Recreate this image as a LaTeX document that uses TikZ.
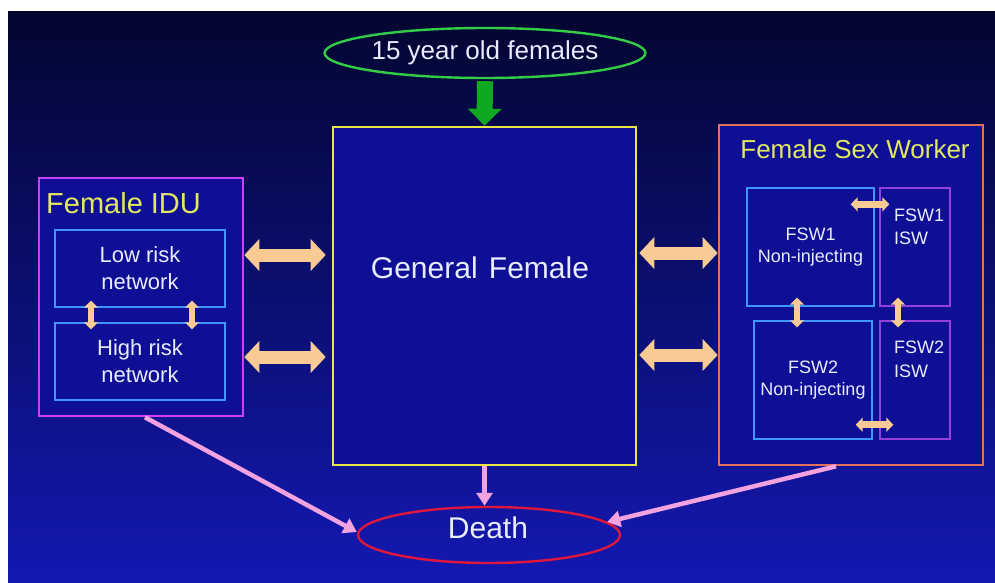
\documentclass[tikz,border=0pt]{standalone}
\usepackage{fontspec}
\setmainfont{Liberation Sans}
\usetikzlibrary{shapes.geometric,arrows.meta}

\definecolor{bgtop}{RGB}{3,6,48}
\definecolor{bgmid}{RGB}{10,12,120}
\definecolor{bgbot}{RGB}{20,24,178}
\definecolor{boxfill}{RGB}{14,15,148}
\definecolor{txt}{RGB}{232,236,255}
\definecolor{title}{RGB}{226,232,96}
\definecolor{genyellow}{RGB}{232,230,70}
\definecolor{idumag}{RGB}{204,64,250}
\definecolor{fswsalmon}{RGB}{228,112,92}
\definecolor{netblue}{RGB}{64,150,255}
\definecolor{iswpurple}{RGB}{150,64,220}
\definecolor{peach}{RGB}{250,202,148}
\definecolor{pinkarrow}{RGB}{242,162,222}
\definecolor{entrygreen}{RGB}{16,168,32}
\definecolor{ringgreen}{RGB}{50,205,70}
\definecolor{deathred}{RGB}{222,24,60}

\tikzset{
  x=1pt, y=-1pt,
  every node/.style={text=txt, inner sep=0pt, font=\fontsize{18}{22}\selectfont},
  bigbox/.style={draw, line width=2.6pt, fill=boxfill, rectangle},
  netbox/.style={draw=netblue, line width=1.4pt, fill=boxfill, rectangle, align=center},
  iswbox/.style={draw=iswpurple, line width=1.4pt, fill=boxfill, rectangle},
  oval/.style={ellipse, line width=2.4pt, inner sep=0pt},
  boxtitle/.style={text=title},
  twoway/.style={draw=peach, line width=13pt,
    {Triangle[width=31pt,length=15pt]}-{Triangle[width=31pt,length=15pt]}},
  smalltwoway/.style={draw=peach, line width=6.5pt,
    {Triangle[width=14pt,length=7pt]}-{Triangle[width=14pt,length=7pt]}},
  todeath/.style={draw=pinkarrow, line width=4.5pt,
    -{Triangle[width=16pt,length=13pt]}},
  entry/.style={draw=entrygreen, line width=16pt,
    -{Triangle[width=33pt,length=17pt]}},
}

\begin{document}
\begin{tikzpicture}
% page and slide background
\fill[white] (0,0) rectangle (995,583);
\useasboundingbox (0,0) rectangle (995,583);
\shade[top color=bgtop, middle color=bgmid, bottom color=bgbot] (8,12) rectangle (995,583);

% entry population
\node[oval, draw=ringgreen, minimum width=262pt, minimum height=50pt,
      font=\fontsize{26}{30}\selectfont] (entry) at (485,53) {15 year old females};

% general female population
\node[bigbox, draw=genyellow, minimum width=303pt, minimum height=338pt] (general) at (484.5,296) {};
\node[font=\fontsize{30}{34}\selectfont] (gentext) at (480,268) {General\hspace{3pt} Female};

% female injecting drug users
\node[bigbox, draw=idumag, minimum width=204pt, minimum height=238pt] (idu) at (141,297) {};
\node[boxtitle, anchor=west, font=\fontsize{29}{33}\selectfont] (idutitle) at (46,203) {Female IDU};
\node[netbox, minimum width=170pt, minimum height=77pt,
      font=\fontsize{22}{27}\selectfont] (low) at (140,268.5) {Low risk\\network};
\node[netbox, minimum width=170pt, minimum height=77pt,
      font=\fontsize{22}{27}\selectfont] (high) at (140,361.5) {High risk\\network};

% female sex workers
\node[bigbox, draw=fswsalmon, minimum width=264pt, minimum height=340pt] (fsw) at (851,295) {};
\node[boxtitle, font=\fontsize{26}{30}\selectfont] (fswtitle) at (855,149) {Female Sex Worker};
\node[netbox, minimum width=127pt, minimum height=118pt] (fswa) at (810.5,247) {FSW1\\Non-injecting};
\node[iswbox, minimum width=70pt, minimum height=118pt] (iswa) at (915,247) {};
\node[netbox, minimum width=118pt, minimum height=118pt] (fswb) at (813,380) {FSW2\\Non-injecting};
\node[iswbox, minimum width=70pt, minimum height=118pt] (iswb) at (915,380) {};
\node[anchor=north west, align=left, font=\fontsize{18}{23}\selectfont] (iswatext) at (894,209) {FSW1\\ISW};
\node[anchor=north west, align=left, font=\fontsize{18}{24}\selectfont] (iswbtext) at (894,341) {FSW2\\ISW};

% death
\node[oval, draw=deathred, minimum width=262pt, minimum height=56pt] (death) at (489,535) {};
\node[font=\fontsize{30}{34}\selectfont] (deathtext) at (488,528) {Death};

% inflow
\draw[entry] ([yshift=-2pt]entry.south) -- (general.north);

% exchanges with the general population
\draw[twoway, shorten >=6pt] (idu.east |- 0,255) -- (general.west |- 0,255);
\draw[twoway, shorten >=6pt] (idu.east |- 0,357) -- (general.west |- 0,357);
\draw[twoway, shorten <=2pt] (general.east |- 0,253) -- (fsw.west |- 0,253);
\draw[twoway, shorten <=2pt] (general.east |- 0,355) -- (fsw.west |- 0,355);

% movement between IDU risk networks
\draw[smalltwoway] ([xshift=-49pt,yshift=7pt]low.south) -- ([xshift=-49pt,yshift=-7pt]high.north);
\draw[smalltwoway] ([xshift=52pt,yshift=7pt]low.south) -- ([xshift=52pt,yshift=-7pt]high.north);

% movement between sex worker groups
\draw[smalltwoway] ([xshift=-24pt,yshift=-17pt]fswa.north east) -- ([xshift=10pt,yshift=-17pt]iswa.north west);
\draw[smalltwoway] ([xshift=-17pt,yshift=15pt]fswb.south east) -- ([xshift=14pt,yshift=15pt]iswb.south west);
\draw[smalltwoway] ([xshift=-13.5pt,yshift=9pt]fswa.south) -- ([xshift=-16pt,yshift=-7pt]fswb.north);
\draw[smalltwoway] ([xshift=-17pt,yshift=9pt]iswa.south) -- ([xshift=-17pt,yshift=-7pt]iswb.north);

% mortality
\draw[todeath] (idu.south -| 145,0) -- ([yshift=3pt]death.west);
\draw[todeath] (general.south) -- (death.north -| general.south);
\draw[todeath] (fsw.south -| 836,0) -- ([xshift=-14pt,yshift=13pt]death.east);
\end{tikzpicture}
\end{document}
